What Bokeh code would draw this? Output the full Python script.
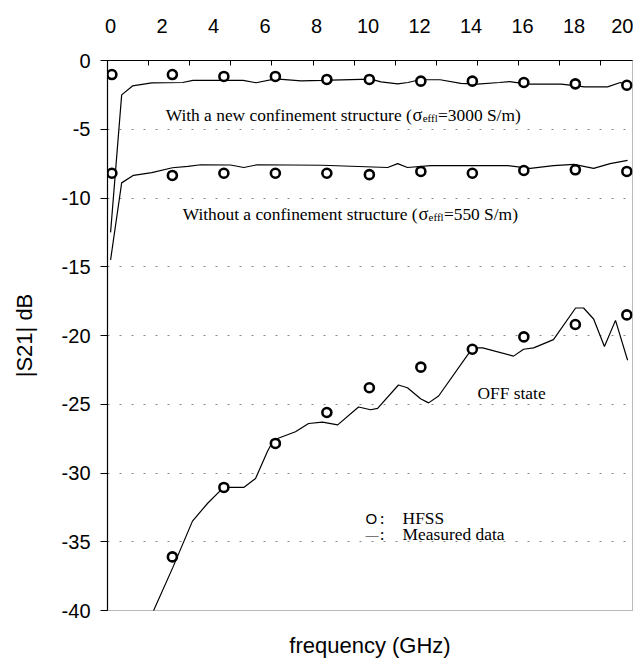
from bokeh.plotting import figure
from bokeh.models import Range1d, FixedTicker, CustomJSTickFormatter, LinearAxis
from bokeh.embed import file_html
from bokeh.resources import INLINE
from bokeh.core.properties import value

# ---------------- data ----------------
x_tick_labels = [0, 2, 4, 6, 8, 10, 12, 14, 16, 18, 20]
y_ticks = [0, -5, -10, -15, -20, -25, -30, -35, -40]
top_tick_marks = [-0.12, 1.48, 3.07, 4.66, 6.25, 7.88, 9.48, 11.07, 12.66, 14.25, 15.84, 17.44, 19.03]

# measured: with new confinement structure
meas_with_f = [0.0, 0.43, 0.85, 1.6, 2.8, 3.2, 5.15, 5.65, 6.4, 7.4, 8.2, 10.1, 10.5, 11.15,
               11.55, 12.0, 12.8, 13.6, 14.25, 15.1, 15.5, 16.2, 17.5, 18.4, 19.3, 19.8, 20.1]
meas_with_db = [-12.5, -2.5, -1.85, -1.63, -1.6, -1.45, -1.45, -1.62, -1.33, -1.48, -1.45, -1.35,
                -1.55, -1.7, -1.6, -1.4, -1.4, -1.66, -1.72, -1.6, -1.53, -1.72, -1.72, -1.92,
                -1.92, -1.6, -1.82]

# measured: without confinement structure
meas_without_f = [0.0, 0.43, 0.89, 1.6, 2.4, 3.0, 3.5, 4.66, 5.17, 5.7, 8.2, 10.76, 11.15, 11.53,
                  12.43, 15.4, 16.3, 17.2, 18.0, 18.76, 19.4, 20.08]
meas_without_db = [-14.5, -8.9, -8.35, -8.15, -7.8, -7.7, -7.58, -7.6, -7.78, -7.58, -7.62, -7.78,
                   -7.5, -7.78, -7.64, -7.64, -7.85, -7.64, -7.56, -7.85, -7.5, -7.27]

# measured: OFF state
meas_off_f = [1.6, 2.41, 3.18, 3.77, 4.39, 5.17, 5.63, 6.1, 6.33, 7.18, 7.69, 8.23, 8.82, 9.63,
              10.1, 10.37, 11.18, 11.53, 12.04, 12.35, 12.74, 14.06, 14.45, 15.65, 16.04, 16.43,
              17.2, 18.06, 18.37, 18.76, 19.18, 19.61, 20.08]
meas_off_db = [-40.3, -36.9, -33.5, -32.2, -31.05, -31.05, -30.4, -28.4, -27.6, -27.0, -26.4,
               -26.3, -26.5, -25.2, -25.4, -25.3, -23.6, -23.8, -24.6, -24.9, -24.4, -20.9, -20.9,
               -21.5, -21.0, -20.9, -20.3, -18.0, -18.0, -18.8, -20.8, -18.9, -21.8]

# HFSS simulation
hfss_f = [0.05, 2.4, 4.4, 6.4, 8.4, 10.05, 12.05, 14.05, 16.05, 18.05, 20.05]
hfss_with_db = [-1.02, -1.02, -1.16, -1.16, -1.38, -1.38, -1.5, -1.5, -1.6, -1.7, -1.8]
hfss_without_db = [-8.2, -8.36, -8.2, -8.2, -8.2, -8.3, -8.07, -8.2, -8.0, -7.95, -8.07]
hfss_off_f = [2.4, 4.4, 6.4, 8.4, 10.05, 12.05, 14.05, 16.05, 18.05, 20.05]
hfss_off_db = [-36.1, -31.05, -27.85, -25.6, -23.8, -22.3, -21.0, -20.1, -19.2, -18.5]

# ---------------- figure ----------------
SANS = "Liberation Sans"
SERIF = "Liberation Serif"

p = figure(width=633, height=660, output_backend="svg", toolbar_location=None,
           x_range=Range1d(-0.12, 20.27), y_range=Range1d(-40, 0),
           x_axis_location="above",
           min_border_left=107, min_border_right=1, min_border_top=60, min_border_bottom=50)
p.background_fill_color = "white"
p.border_fill_color = "white"
p.outline_line_color = "#777777"
p.outline_line_dash = "1 1"
p.outline_line_width = 1

# top axis
xa = p.xaxis[0]
xa.ticker = FixedTicker(ticks=x_tick_labels, minor_ticks=top_tick_marks)
xa.formatter = CustomJSTickFormatter(code="return tick.toFixed(0);")
xa.major_tick_line_color = None
xa.minor_tick_in = 5
xa.minor_tick_out = 0
xa.minor_tick_line_color = "black"
xa.axis_line_color = "black"
xa.axis_line_width = 1.2
xa.major_label_text_font = SANS
xa.major_label_text_font_size = "20px"
xa.major_label_text_color = "black"
xa.major_label_standoff = 22

# bottom title carried by an otherwise empty axis
xb = LinearAxis(ticker=FixedTicker(ticks=[]), axis_label="frequency (GHz)",
                axis_line_color=None, major_tick_line_color=None, minor_tick_line_color=None,
                major_tick_out=0, major_tick_in=0, major_label_standoff=0,
                axis_label_standoff=22, axis_label_text_font=SANS,
                axis_label_text_font_size="22px", axis_label_text_font_style="normal",
                axis_label_text_color="black")
p.add_layout(xb, "below")

# left axis
ya = p.yaxis[0]
ya.ticker = FixedTicker(ticks=y_ticks)
ya.formatter = CustomJSTickFormatter(code="return tick.toFixed(0);")
ya.minor_tick_line_color = None
ya.major_tick_out = 7
ya.major_tick_in = 0
ya.major_tick_line_color = "black"
ya.axis_line_color = "black"
ya.axis_line_width = 1.2
ya.major_label_text_font = SANS
ya.major_label_text_font_size = "20px"
ya.major_label_text_color = "black"
ya.major_label_standoff = 10
ya.axis_label = "|S21| dB"
ya.axis_label_text_font = SANS
ya.axis_label_text_font_size = "22px"
ya.axis_label_text_font_style = "normal"
ya.axis_label_text_color = "black"
ya.axis_label_standoff = 22

p.xgrid.visible = False
p.ygrid.ticker = FixedTicker(ticks=y_ticks)
p.ygrid.grid_line_color = "#888888"
p.ygrid.grid_line_dash = "2 10"
p.ygrid.grid_line_width = 1

# measured lines
for fx, db in [(meas_with_f, meas_with_db), (meas_without_f, meas_without_db), (meas_off_f, meas_off_db)]:
    p.line(fx, db, line_color="black", line_width=1.2)

# HFSS circles
for fx, db in [(hfss_f, hfss_with_db), (hfss_f, hfss_without_db), (hfss_off_f, hfss_off_db)]:
    p.scatter(fx, db, marker="circle", size=9, fill_color="white", line_color="black", line_width=2.6)

# ---------------- annotations ----------------
TIMES_W = {'W': 944, 'i': 278, 't': 278, 'h': 500, ' ': 250, 'a': 444, 'n': 500, 'e': 444, 'w': 722,
           'c': 444, 'o': 500, 'f': 333, 'm': 778, 's': 389, 'r': 333, 'u': 500, '(': 333, ')': 333,
           '=': 564, '3': 500, '0': 500, '5': 500, 'S': 556, '/': 278, 'l': 278, 'σ': 549}
PX_PER_DB = 550 / 40.0
BODY = 17.4


def text_width(s, size):
    return sum(TIMES_W.get(ch, 500) for ch in s) * size / 1000.0


def place(x0, y0, pieces):
    off = 0.0
    for txt, size, dy in pieces:
        p.text(x=[x0], y=[y0 - dy / PX_PER_DB], text=[txt], x_offset=off,
               text_font=value(SERIF), text_font_size=value(f"{size}px"),
               text_baseline="alphabetic", text_align="left", text_color="black")
        off += text_width(txt, size)


place(2.14, -3.93, [("With a new confinement structure (", BODY, 0), ("σ", BODY + 1, 0),
                    ("effl", 11, 3), ("=3000 S/m)", BODY, 0)])
place(2.8, -11.15, [("Without a confinement structure (", BODY, 0), ("σ", BODY + 1, 0),
                    ("effl", 11, 3), ("=550 S/m)", BODY, 0)])
p.text(x=[14.25], y=[-24.15], text=["OFF state"], text_font=value(SERIF), text_font_size=value(f"{BODY}px"),
       text_baseline="alphabetic", text_align="left", text_color="black")

# legend text
p.text(x=[9.9], y=[-33.3], text=["O"], text_font=value(SANS), text_font_size=value("15px"),
       text_baseline="middle", text_align="left", text_color="black")
p.text(x=[10.45, 10.45], y=[-33.3, -34.45], text=[":", ":"], text_font=value(SERIF),
       text_font_size=value(f"{BODY}px"), text_baseline="middle", text_align="left", text_color="black")
p.text(x=[9.9], y=[-34.45], text=["—"], text_font=value(SERIF), text_font_size=value("13px"),
       text_baseline="middle", text_align="left", text_color="black")
p.text(x=[11.34, 11.34], y=[-33.3, -34.45], text=["HFSS", "Measured data"], text_font=value(SERIF),
       text_font_size=value(f"{BODY}px"), text_baseline="middle", text_align="left", text_color="black")

open("out.html", "w").write(file_html(p, INLINE))
